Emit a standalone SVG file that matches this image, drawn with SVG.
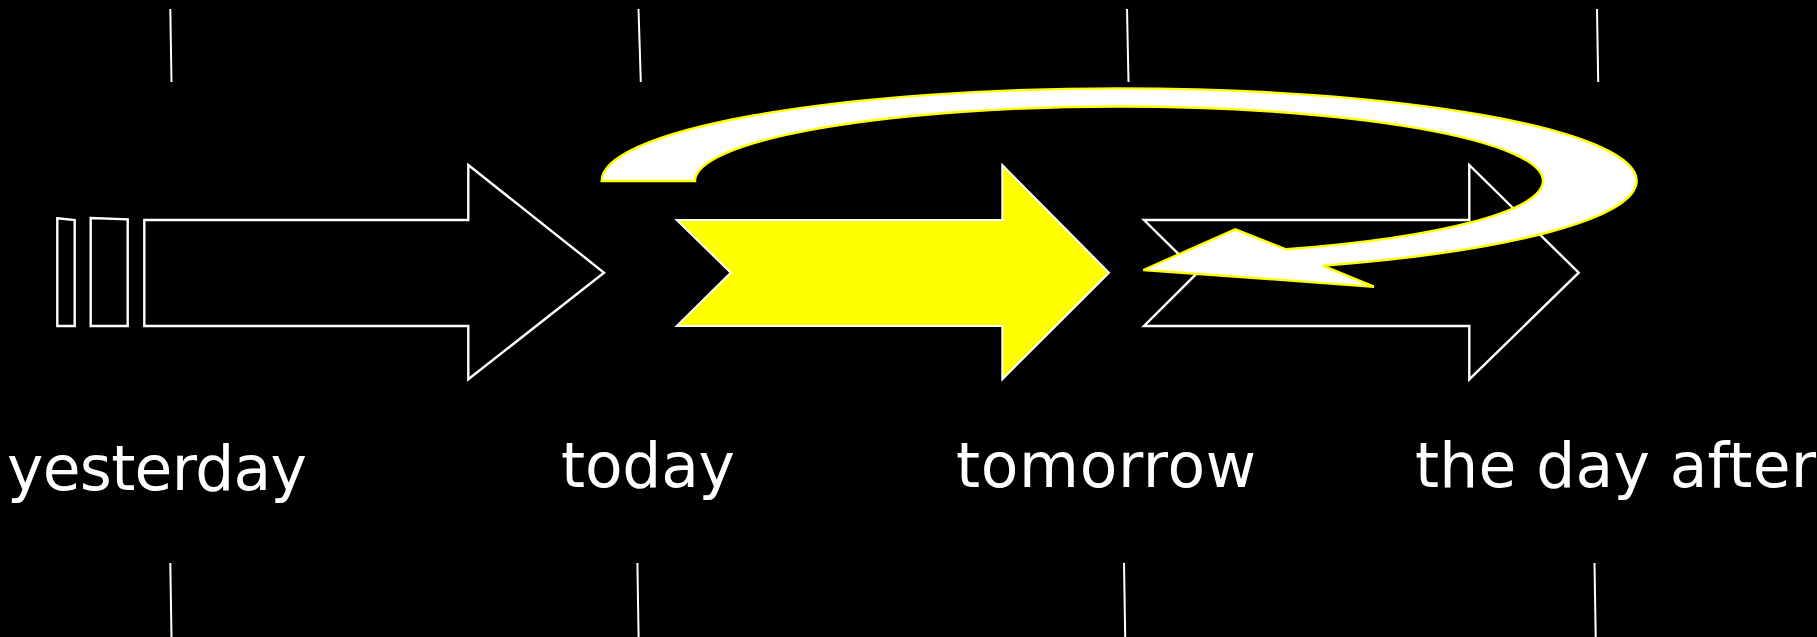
<svg xmlns="http://www.w3.org/2000/svg" width="1817" height="637" viewBox="0 0 1817 637">
<style>
.tick{stroke:#fff;stroke-width:2;fill:none}
.outline{fill:none;stroke:#fff;stroke-width:2.4;stroke-linejoin:miter}
.yellow{fill:#ff0;stroke:#fff;stroke-width:2}
.curl{fill:#fff;stroke:#ff0;stroke-width:2.4;stroke-linejoin:miter}
.lbl{font-family:"DejaVu Sans",Verdana,sans-serif;font-size:61.5px;fill:#fff}
</style>
<rect width="1817" height="637" fill="#000"/>
<g id="ticks">
<line class="tick" x1="170.3" y1="9" x2="171.5" y2="82"/>
<line class="tick" x1="638.5" y1="9" x2="640.8" y2="82"/>
<line class="tick" x1="1127" y1="9" x2="1128.5" y2="82"/>
<line class="tick" x1="1597" y1="9" x2="1598.2" y2="82"/>
<line class="tick" x1="170.3" y1="563" x2="171.5" y2="637"/>
<line class="tick" x1="637.4" y1="563" x2="638.6" y2="637"/>
<line class="tick" x1="1124" y1="563" x2="1125.2" y2="637"/>
<line class="tick" x1="1594.5" y1="563" x2="1595.7" y2="637"/>
</g>
<g id="yesterday-arrow">
<polygon class="outline" points="57.3,218.3 74.7,220 74.7,326 57.3,326"/>
<polygon class="outline" points="90.7,218 127.7,219.3 127.7,326 90.7,326"/>
<polygon class="outline" points="144.3,220 468.3,220 468.3,165 604,272.7 468.3,379.3 468.3,326 144.3,326"/>
</g>
<g id="today-arrow">
<polygon class="yellow" points="676.7,220 1002.3,220 1002.3,165 1109,272.7 1002.3,379.3 1002.3,326 676.7,326 730.7,272.7"/>
</g>
<g id="tomorrow-arrow">
<polygon class="outline" points="1144,220 1469.3,220 1469.3,165 1578.7,272.7 1469.3,379.3 1469.3,326 1144,326 1197.5,272.7"/>
</g>
<g id="curl-arrow">
<path class="curl" d="M601.7,181 A517.5,92.7 0 0 1 1636.7,181 A517.5,92.7 0 0 1 1322.7,265.7 L1374,286.7 L1143.3,270 L1235.3,229.3 L1286,249.3 A424,74.5 0 0 0 1543,181 A424,74.5 0 0 0 695,181 Z"/>
</g>
<g id="labels">
<text class="lbl" x="7" y="490" textLength="300" lengthAdjust="spacing">yesterday</text>
<text class="lbl" x="561" y="486.5" textLength="174" lengthAdjust="spacing">today</text>
<text class="lbl" x="956" y="486.5" textLength="300" lengthAdjust="spacing">tomorrow</text>
<text class="lbl" x="1415" y="486.5" textLength="401" lengthAdjust="spacing">the day after</text>
</g>
</svg>
